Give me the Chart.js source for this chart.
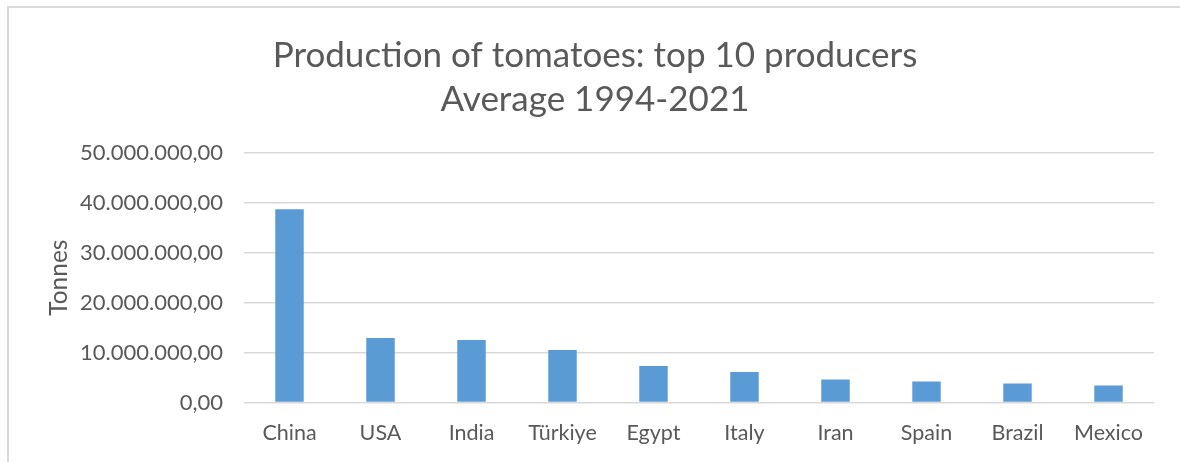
<!DOCTYPE html>
<html>
<head>
<meta charset="utf-8">
<script src="https://cdn.jsdelivr.net/npm/chart.js@4.4.0/dist/chart.umd.min.js"></script>
<style>
    html, body { margin: 0; padding: 0; background: #fff; overflow: hidden; }
    canvas { display: block; }
</style>
</head>
<body>
<canvas id="my-chart" width="1180" height="462"></canvas>
<script>
const countries = ['China', 'USA', 'India', 'Türkiye', 'Egypt', 'Italy', 'Iran', 'Spain', 'Brazil', 'Mexico'];
// average tonnes 1994-2021
const tonnes = [38700000, 12900000, 12500000, 10500000, 7300000, 6100000, 4600000, 4200000, 3800000, 3400000];
const titleLines = ['Production of tomatoes: top 10 producers', 'Average 1994-2021'];
const yTitle = 'Tonnes';

const fontFamily = 'Lato, "Noto Sans", sans-serif';
const textColor = '#595959';
const gridColor = '#d9d9d9';

const fmt = v => {
    const parts = Math.round(v).toString().replace(/\B(?=(\d{3})+(?!\d))/g, '.');
    return parts + ',00';
};

// excel chart-area border: only top and left edges are in the picture
const frame = {
    id: 'frame',
    beforeDraw(chart) {
        const c = chart.ctx;
        c.save();
        c.strokeStyle = gridColor;
        c.lineWidth = 2;
        c.beginPath();
        c.moveTo(8, chart.height);
        c.lineTo(8, 7);
        c.lineTo(chart.width, 7);
        c.stroke();
        c.restore();
    }
};

const ctxBar = document.getElementById('my-chart').getContext('2d');
const myChartBar = new Chart(ctxBar, {
    type: 'bar',
    data: {
        labels: countries,
        datasets: [{
            label: yTitle,
            data: tonnes,
            backgroundColor: '#5b9bd5',
            borderWidth: 0,
            barPercentage: 1,
            categoryPercentage: 0.313
        }]
    },
    options: {
        responsive: false,
        animation: false,
        layout: { padding: { left: 36, right: 26, top: 0, bottom: -2 } },
        plugins: {
            legend: { display: false },
            tooltip: { enabled: false },
            title: {
                display: true,
                text: titleLines,
                color: textColor,
                font: { family: fontFamily, size: 35, weight: 'normal', lineHeight: 1.27 },
                padding: { top: 33, bottom: 31 }
            }
        },
        scales: {
            x: {
                grid: { display: false, drawTicks: false },
                border: { display: false },
                ticks: {
                    color: textColor,
                    padding: 20,
                    font: { family: fontFamily, size: 21.5, lineHeight: 1 }
                }
            },
            y: {
                min: 0,
                max: 50000000,
                afterFit: scale => { scale.width = 208; },
                grid: { color: gridColor, lineWidth: 1.5, drawTicks: false },
                border: { display: false },
                ticks: {
                    stepSize: 10000000,
                    color: textColor,
                    padding: 21,
                    font: { family: fontFamily, size: 22 },
                    callback: v => fmt(v)
                },
                title: {
                    display: true,
                    text: yTitle,
                    color: textColor,
                    padding: { top: 8 },
                    font: { family: fontFamily, size: 24.5 }
                }
            }
        }
    },
    plugins: [frame]
});
</script>
</body>
</html>
